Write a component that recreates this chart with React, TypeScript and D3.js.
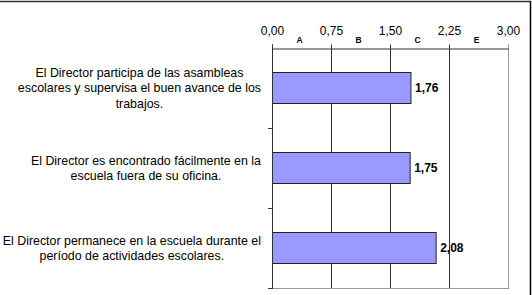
import React, { useRef, useEffect } from 'react';
import * as d3 from 'd3';

// chart values, top to bottom as in the picture
const categories = [
  ['El Director participa de las asambleas', 'escolares y supervisa el buen avance de los', 'trabajos.'],
  ['El Director es encontrado fácilmente en la', 'escuela fuera de su oficina.'],
  ['El Director permanece en la escuela durante el', 'período de actividades escolares.'],
];
const values = [1.76, 1.75, 2.08];
const xTicks = [0, 0.75, 1.5, 2.25, 3];
const grades = ['A', 'B', 'C', 'E'];

const App = () => {
  const width = 532;
  const height = 295;
  const svgRef = useRef<SVGSVGElement>(null);

  useEffect(() => {
    const svg = d3.select(svgRef.current);
    svg.selectAll('*').remove();

    const left = 272, right = 508, top = 48, bottom = 288;
    const font = 'Liberation Sans, Arial, sans-serif';

    const locale = d3.formatLocale({ decimal: ',', thousands: '.', grouping: [3], currency: ['', ''] });
    const fmt = locale.format('.2f');

    const x = d3.scaleLinear().domain([0, 3]).range([left, right]);
    const y = d3.scaleBand<number>()
      .domain(d3.range(values.length))
      .range([top, bottom])
      .paddingInner(0.61)
      .paddingOuter(0.305);

    // outer frame (top and right edges visible)
    svg.append('line').attr('x1', 0).attr('x2', 531).attr('y1', 1.5).attr('y2', 1.5)
      .attr('stroke', '#333').attr('stroke-width', 1.5);
    svg.append('line').attr('x1', 530.5).attr('x2', 530.5).attr('y1', 1).attr('y2', 295)
      .attr('stroke', '#000').attr('stroke-width', 1.5);

    // gridlines
    svg.append('g').selectAll('line')
      .data(xTicks.slice(1))
      .enter().append('line')
      .attr('x1', d => Math.round(x(d)) + 0.5)
      .attr('x2', d => Math.round(x(d)) + 0.5)
      .attr('y1', top)
      .attr('y2', bottom)
      .attr('stroke', d => d === 3 ? '#999' : '#333');

    // plot bottom border
    svg.append('line').attr('x1', left).attr('x2', right + 1).attr('y1', bottom + 0.5).attr('y2', bottom + 0.5)
      .attr('stroke', '#999');

    // bars
    svg.append('g').selectAll('rect')
      .data(values)
      .enter().append('rect')
      .attr('x', x(0) + 0.5)
      .attr('y', (d, i) => Math.round(y(i)!) + 0.5)
      .attr('width', d => x(d) - x(0))
      .attr('height', Math.round(y.bandwidth()))
      .attr('fill', '#9999ff')
      .attr('stroke', '#222')
      .attr('stroke-width', 1);

    // value labels
    svg.append('g').selectAll('text')
      .data(values)
      .enter().append('text')
      .attr('x', d => x(d) + 4.5)
      .attr('y', (d, i) => y(i)! + y.bandwidth() / 2)
      .attr('dy', '0.35em')
      .style('font-family', font)
      .style('font-size', '12px')
      .style('font-weight', 'bold')
      .attr('fill', '#000')
      .text(d => fmt(d));

    // top x axis
    const xAxis = d3.axisTop(x)
      .tickValues(xTicks)
      .tickSize(4)
      .tickPadding(10)
      .tickFormat(d => fmt(d as number));
    const gx = svg.append('g').attr('transform', `translate(0,${top + 0.5})`).call(xAxis);
    gx.select('.domain').attr('stroke', '#333');
    gx.selectAll('.tick line').attr('stroke', (d: any) => d === 3 ? '#999' : '#333');
    gx.selectAll('.tick text')
      .style('font-family', font)
      .style('font-size', '12px')
      .attr('fill', '#000');

    // grade letters between ticks
    svg.append('g').selectAll('text')
      .data(grades)
      .enter().append('text')
      .attr('x', (d, i) => (x(xTicks[i]) + x(xTicks[i + 1])) / 2 - 2)
      .attr('y', 43)
      .attr('text-anchor', 'middle')
      .style('font-family', font)
      .style('font-size', '8.5px')
      .style('font-weight', 'bold')
      .attr('fill', '#000')
      .text(d => d);

    // left category axis
    svg.append('line').attr('x1', left + 0.5).attr('x2', left + 0.5).attr('y1', top).attr('y2', bottom + 1)
      .attr('stroke', '#333');
    svg.append('g').selectAll('line')
      .data(d3.range(1, values.length + 1))
      .enter().append('line')
      .attr('x1', left - 4)
      .attr('x2', left)
      .attr('y1', d => Math.round(top + d * y.step()) + 0.5)
      .attr('y2', d => Math.round(top + d * y.step()) + 0.5)
      .attr('stroke', '#333');

    // category labels: centered lines, block right-aligned to the axis
    const lineH = 15.5;
    categories.forEach((lines, i) => {
      const cy = y(i)! + y.bandwidth() / 2;
      const g = svg.append('g');
      const texts = g.selectAll('text')
        .data(lines)
        .enter().append('text')
        .attr('y', (d, j) => cy + (j - (lines.length - 1) / 2) * lineH)
        .attr('dy', '0.35em')
        .attr('text-anchor', 'middle')
        .style('font-family', font)
        .style('font-size', '12.4px')
        .attr('fill', '#000')
        .text(d => d);
      let maxW = 0;
      texts.each(function () {
        maxW = Math.max(maxW, (this as SVGTextElement).getComputedTextLength());
      });
      texts.attr('x', 261 - maxW / 2);
    });
  }, []);

  return (
    <svg
      ref={svgRef}
      width={width}
      height={height}
      style={{ position: 'absolute', left: 0, top: 0, background: '#fff' }}
    />
  );
};

export default App;
